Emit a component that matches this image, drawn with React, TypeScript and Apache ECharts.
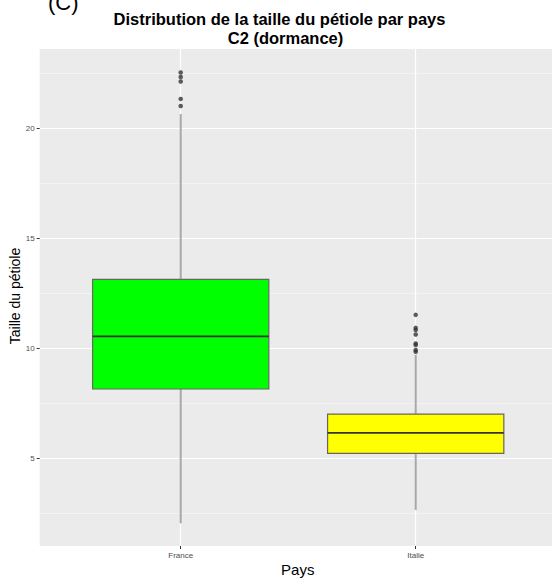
import React, { useEffect, useRef } from 'react';
import * as echarts from 'echarts';

// ---- data ----
const categories = ['France', 'Italie'];
const whiskerLow = [2.03, 2.64];
const quartile1 = [8.14, 5.21];
const medians = [10.53, 6.14];
const quartile3 = [13.12, 7.0];
const whiskerHigh = [20.64, 9.7];
const outliersFrance = [22.53, 22.33, 22.12, 21.33, 21.01];
const outliersItalie = [11.51, 10.92, 10.82, 10.62, 10.21, 10.14, 9.91, 9.83];
const yMajorTicks = [5, 10, 15, 20];
const yMinorTicks = [2.5, 7.5, 12.5, 17.5, 22.5];
const xTicks = [0, 1];

const FILLS = ['#00FF00', '#FFFF00'];
const BOX_WIDTH = 0.75;
const FONT = "'Liberation Sans', Arial, sans-serif";

export default function App() {
  const ref = useRef<HTMLDivElement>(null);
  useEffect(() => {
    if (!ref.current) return;
    const chart = echarts.init(ref.current, undefined, { renderer: 'svg' });
    const boxData = categories.map((_, i) => [
      i,
      whiskerLow[i],
      quartile1[i],
      medians[i],
      quartile3[i],
      whiskerHigh[i],
    ]);
    const outlierData = [
      ...outliersFrance.map((v) => [0, v]),
      ...outliersItalie.map((v) => [1, v]),
    ];
    const option: any = {
      animation: false,
      backgroundColor: '#ffffff',
      textStyle: { fontFamily: FONT },
      grid: {
        left: 39.7,
        right: 1,
        top: 49,
        bottom: 32,
        show: true,
        backgroundColor: '#EBEBEB',
        borderWidth: 0,
        containLabel: false,
      },
      xAxis: {
        type: 'value',
        min: -0.6,
        max: 1.58,
        axisLine: { show: false, onZero: false },
        axisTick: {
          show: true,
          customValues: xTicks,
          length: 3,
          lineStyle: { color: '#333333', width: 1 },
        },
        axisLabel: {
          customValues: xTicks,
          formatter: (v: number) => categories[Math.round(v)] ?? '',
          fontSize: 8,
          color: '#4D4D4D',
          margin: 5,
          fontFamily: FONT,
        },
        splitLine: { show: true, lineStyle: { color: '#FFFFFF', width: 1.2 } },
      },
      yAxis: [
        {
          type: 'value',
          min: 1,
          max: 23.6,
          axisLine: { show: false, onZero: false },
          axisTick: {
            show: true,
            customValues: yMajorTicks,
            length: 3,
            lineStyle: { color: '#333333', width: 1 },
          },
          axisLabel: {
            customValues: yMajorTicks,
            fontSize: 8,
            color: '#4D4D4D',
            margin: 5,
            fontFamily: FONT,
          },
          splitLine: { show: true, lineStyle: { color: '#FFFFFF', width: 1.2 } },
        },
        {
          type: 'value',
          min: 1,
          max: 23.6,
          position: 'left',
          axisLine: { show: false, onZero: false },
          axisTick: { show: false, customValues: yMinorTicks },
          axisLabel: { show: false, customValues: yMinorTicks },
          splitLine: { show: true, lineStyle: { color: '#F7F7F7', width: 0.7 } },
        },
      ],
      graphic: [
        {
          type: 'text',
          left: 48,
          top: -9,
          style: { text: '(C)', font: `22px ${FONT}`, fill: '#000' },
        },
        {
          type: 'text',
          x: 279.5,
          y: 19,
          style: {
            text: 'Distribution de la taille du pétiole par pays',
            font: `bold 16.5px ${FONT}`,
            fill: '#000',
            align: 'center',
            verticalAlign: 'middle',
          },
        },
        {
          type: 'text',
          x: 285.5,
          y: 37.5,
          style: {
            text: 'C2 (dormance)',
            font: `bold 16.5px ${FONT}`,
            fill: '#000',
            align: 'center',
            verticalAlign: 'middle',
          },
        },
        {
          type: 'text',
          x: 297.7,
          y: 569,
          style: {
            text: 'Pays',
            font: `15px ${FONT}`,
            fill: '#000',
            align: 'center',
            verticalAlign: 'middle',
          },
        },
        {
          type: 'text',
          x: 15,
          y: 296,
          rotation: Math.PI / 2,
          style: {
            text: 'Taille du pétiole',
            font: `14px ${FONT}`,
            fill: '#000',
            align: 'center',
            verticalAlign: 'middle',
          },
        },
      ],
      series: [
        {
          type: 'custom',
          z: 3,
          encode: { x: 0, y: [1, 2, 3, 4, 5] },
          data: boxData,
          renderItem: (params: any, api: any) => {
            const i = params.dataIndex;
            const x = api.value(0);
            const pLo = api.coord([x, api.value(1)]);
            const pQ1 = api.coord([x, api.value(2)]);
            const pMed = api.coord([x, api.value(3)]);
            const pQ3 = api.coord([x, api.value(4)]);
            const pHi = api.coord([x, api.value(5)]);
            const half = api.size([BOX_WIDTH, 0])[0] / 2;
            const cx = pMed[0];
            return {
              type: 'group',
              children: [
                {
                  type: 'line',
                  shape: { x1: cx, y1: pLo[1], x2: cx, y2: pQ1[1] },
                  style: { stroke: '#A8A8A8', lineWidth: 2 },
                },
                {
                  type: 'line',
                  shape: { x1: cx, y1: pQ3[1], x2: cx, y2: pHi[1] },
                  style: { stroke: '#A8A8A8', lineWidth: 2 },
                },
                {
                  type: 'rect',
                  shape: {
                    x: cx - half,
                    y: pQ3[1],
                    width: half * 2,
                    height: pQ1[1] - pQ3[1],
                  },
                  style: { fill: FILLS[i], stroke: '#666666', lineWidth: 1.2 },
                },
                {
                  type: 'line',
                  shape: { x1: cx - half, y1: pMed[1], x2: cx + half, y2: pMed[1] },
                  style: { stroke: '#333333', lineWidth: 1.8 },
                },
              ],
            };
          },
        },
        {
          type: 'scatter',
          z: 4,
          data: outlierData,
          symbol: 'circle',
          symbolSize: 4.5,
          itemStyle: { color: '#333333' },
        },
      ],
    };
    chart.setOption(option);
    return () => chart.dispose();
  }, []);
  return (
    <div
      ref={ref}
      style={{ position: 'fixed', left: 0, top: 0, width: 553, height: 578 }}
    />
  );
}
